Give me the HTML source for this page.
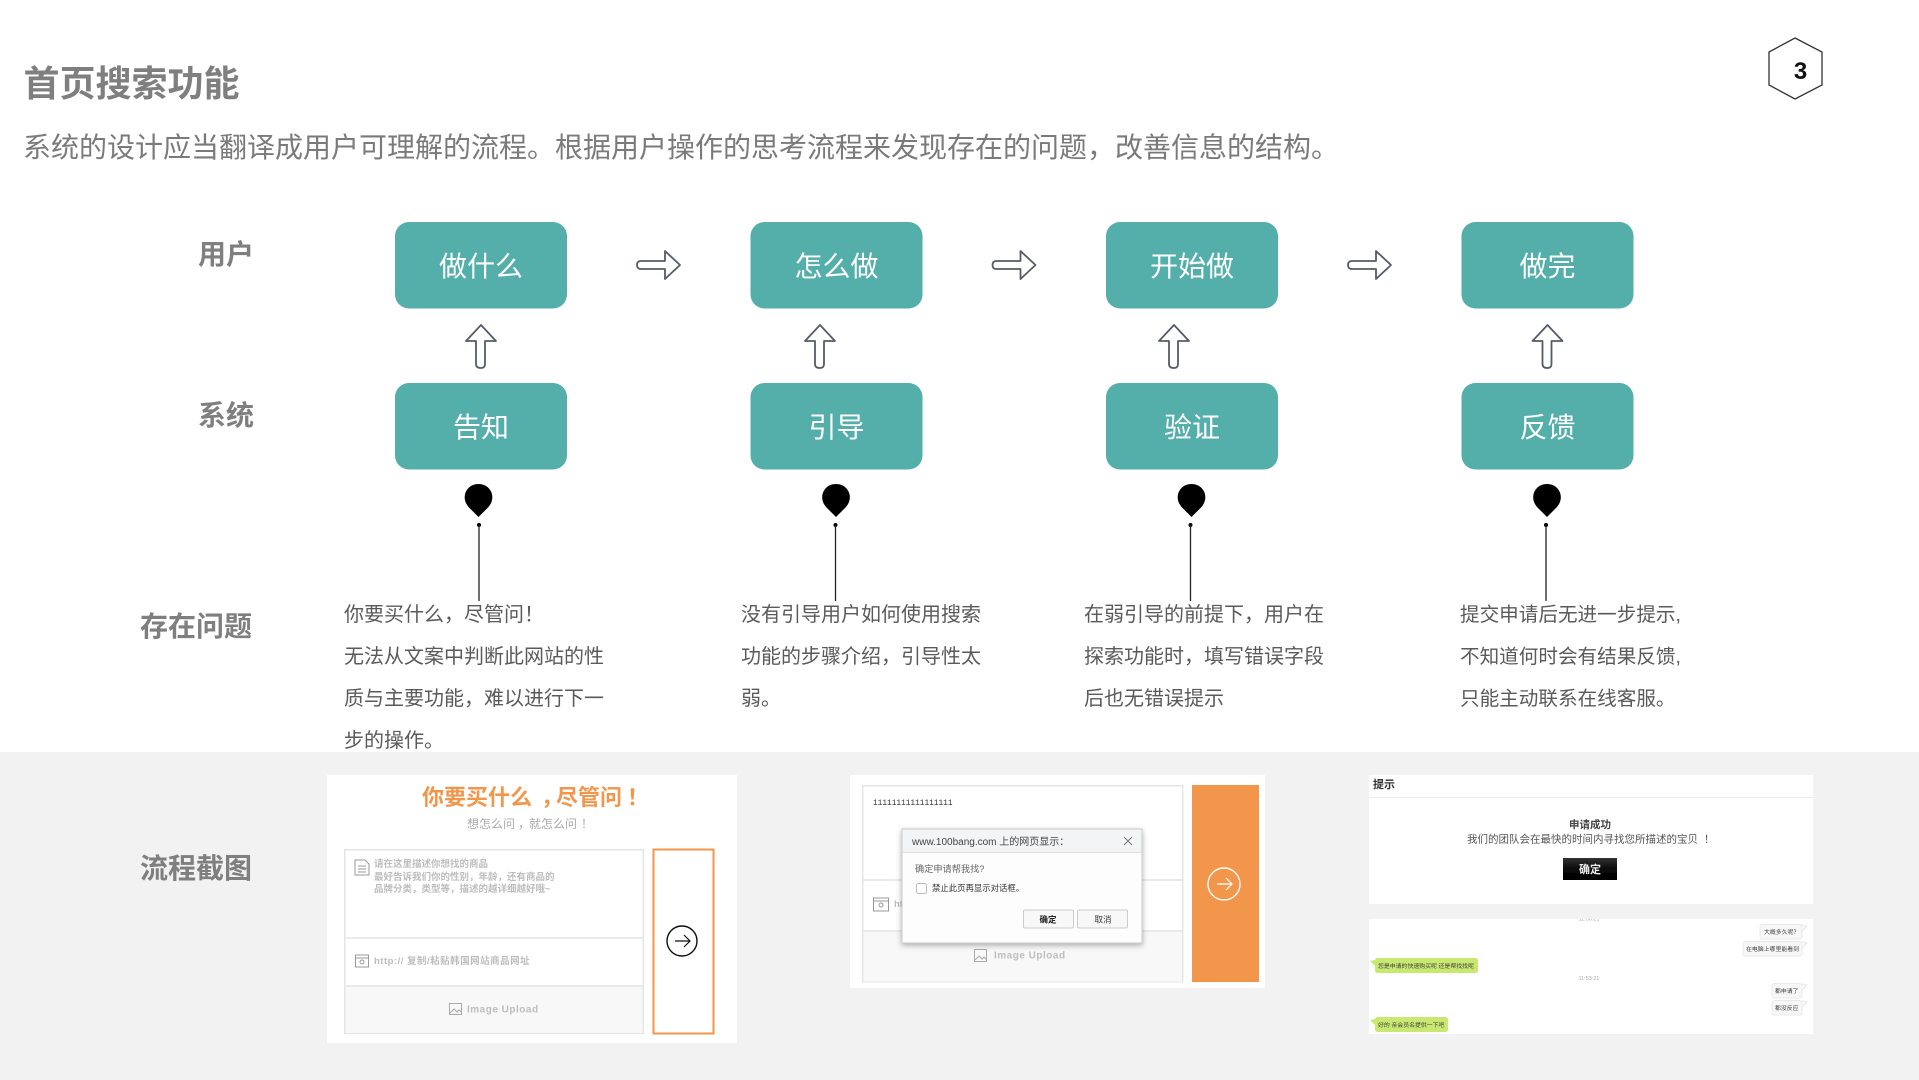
<!DOCTYPE html>
<html lang="zh-CN"><head><meta charset="utf-8"><title>首页搜索功能</title>
<style>
html,body{margin:0;padding:0;background:#fff;width:1919px;height:1080px;overflow:hidden}
svg{display:block}
text{font-family:"Liberation Sans","Noto Sans CJK SC",sans-serif}
.lab{font-size:28px;font-weight:700;fill:#7f7f7f;text-anchor:end}
.box{font-size:28px;fill:#fff;text-anchor:middle}
.b{font-size:20px;fill:#5a5a5a}
.b4{font-size:19.6px;fill:#5a5a5a}
.ph{font-size:9.5px;font-weight:700;fill:#bdbdbd}
.iu{font-size:10px;font-weight:700;fill:#bdbdbd;letter-spacing:.5px}
.chat{font-size:5.9px;fill:#444}
</style></head><body>
<svg width="1919" height="1080" viewBox="0 0 1919 1080" xmlns="http://www.w3.org/2000/svg">
<defs>
<filter id="soft" x="-2%" y="-2%" width="104%" height="104%"><feGaussianBlur stdDeviation="0.35"/></filter>
<filter id="sh" x="-10%" y="-10%" width="120%" height="125%"><feDropShadow dx="0" dy="2" stdDeviation="3" flood-color="#000" flood-opacity=".3"/></filter>
<linearGradient id="blk" x1="0" y1="0" x2="0" y2="1"><stop offset="0" stop-color="#333"/><stop offset=".5" stop-color="#0a0a0a"/><stop offset="1" stop-color="#000"/></linearGradient>
<path id="ar" d="M665 261V251L680 265 665 279V269H641Q637 269 637 265 637 261 641 261Z" fill="#fff" stroke="#555b66" stroke-width="1.8" stroke-linejoin="round"/>
<path id="au" d="M476 341H466L481 325 496 341H485V364Q485 368 481 368 476 368 476 364Z" fill="#fff" stroke="#555b66" stroke-width="1.8" stroke-linejoin="round"/>
<path id="drop" d="M478.5 517L469 507.5C460 498 466 484 478.5 484 491 484 497 498 488 507.5Z" fill="#000"/>
<g id="stem"><circle cx="479" cy="525" r="2" fill="#000"/><line x1="479" y1="525" x2="479" y2="601" stroke="#222" stroke-width="1.3"/></g>
</defs>

<!-- header -->
<text x="23.5" y="96" font-size="36" font-weight="700" fill="#7f7f7f">首页搜索功能</text>
<text x="23" y="157" font-size="28" fill="#7a7a7a">系统的设计应当翻译成用户可理解的流程。根据用户操作的思考流程来发现存在的问题&#xFF0C;改善信息的结构。</text>
<polygon points="1795,38 1822,52 1822,85 1795,99 1769,85 1769,52" fill="#fff" stroke="#333" stroke-width="1.3"/>
<text x="1800.5" y="79" font-size="24" font-weight="700" fill="#111" text-anchor="middle">3</text>

<!-- row labels -->
<text class="lab" x="254" y="264">用户</text>
<text class="lab" x="254" y="425">系统</text>
<text class="lab" x="252" y="636">存在问题</text>

<!-- boxes -->
<g fill="#54aea9">
<rect x="395" y="222" width="172" height="86.5" rx="14"/><rect x="750.5" y="222" width="172" height="86.5" rx="14"/><rect x="1106" y="222" width="172" height="86.5" rx="14"/><rect x="1461.5" y="222" width="172" height="86.5" rx="14"/>
<rect x="395" y="383" width="172" height="86.5" rx="14"/><rect x="750.5" y="383" width="172" height="86.5" rx="14"/><rect x="1106" y="383" width="172" height="86.5" rx="14"/><rect x="1461.5" y="383" width="172" height="86.5" rx="14"/>
</g>
<text class="box" x="481" y="276">做什么</text><text class="box" x="836.5" y="276">怎么做</text><text class="box" x="1192" y="276">开始做</text><text class="box" x="1547.5" y="276">做完</text>
<text class="box" x="481" y="437">告知</text><text class="box" x="836.5" y="437">引导</text><text class="box" x="1192" y="437">验证</text><text class="box" x="1547.5" y="437">反馈</text>

<!-- arrows -->
<use href="#ar"/><use href="#ar" x="355.5"/><use href="#ar" x="711"/>
<use href="#au"/><use href="#au" x="339"/><use href="#au" x="693"/><use href="#au" x="1066.5"/>
<use href="#drop"/><use href="#drop" x="357.5"/><use href="#drop" x="713"/><use href="#drop" x="1068.5"/>
<use href="#stem"/><use href="#stem" x="356.5"/><use href="#stem" x="711.5"/><use href="#stem" x="1067"/>

<!-- problem text -->
<text class="b" x="344" y="621">你要买什么&#xFF0C;尽管问&#xFF01;</text><text class="b" x="344" y="663">无法从文案中判断此网站的性</text><text class="b" x="344" y="705">质与主要功能&#xFF0C;难以进行下一</text><text class="b" x="344" y="747">步的操作。</text>
<text class="b" x="741" y="621">没有引导用户如何使用搜索</text><text class="b" x="741" y="663">功能的步骤介绍&#xFF0C;引导性太</text><text class="b" x="741" y="705">弱。</text>
<text class="b" x="1084" y="621">在弱引导的前提下&#xFF0C;用户在</text><text class="b" x="1084" y="663">探索功能时&#xFF0C;填写错误字段</text><text class="b" x="1084" y="705">后也无错误提示</text>
<text class="b4" x="1460" y="621">提交申请后无进一步提示,</text><text class="b4" x="1460" y="663">不知道何时会有结果反馈,</text><text class="b4" x="1460" y="705">只能主动联系在线客服。</text>

<!-- band -->
<rect x="0" y="752" width="1919" height="328" fill="#f2f2f2"/>
<text class="lab" x="252" y="878">流程截图</text>

<!-- screenshot 1 -->
<g filter="url(#soft)">
<rect x="327" y="775" width="410" height="268" fill="#fff"/>
<text y="805" font-size="22" font-weight="700" fill="#f2964b"><tspan x="422">你要买什么</tspan><tspan x="541">&#xFF0C;</tspan><tspan x="556">尽管问</tspan><tspan x="627">&#xFF01;</tspan></text>
<text y="828" font-size="12" fill="#aaa"><tspan x="467">想怎么问</tspan><tspan x="518">&#xFF0C;</tspan><tspan x="529">就怎么问</tspan><tspan x="581">&#xFF01;</tspan></text>
<rect x="344.7" y="849.7" width="298.6" height="183.6" fill="#fff" stroke="#e4e4e4" stroke-width="1.4"/>
<rect x="345.5" y="986" width="297" height="47" fill="#f8f8f8"/>
<path d="M345 938H643M345 986H643" stroke="#e4e4e4" stroke-width="1.4"/>
<rect x="653.5" y="849.5" width="60" height="184" fill="#fff" stroke="#f2964b" stroke-width="2"/>
<circle cx="682" cy="941" r="15" fill="none" stroke="#111" stroke-width="1.4"/>
<path d="M675 941H690M684 935L690 941 684 947" fill="none" stroke="#111" stroke-width="1.2"/>
<path d="M355 860H365L369 864V875H355Z M358 866H366M358 869H366M358 872H366" fill="none" stroke="#999" stroke-width="1"/>
<text class="ph" x="374" y="867">请在这里描述你想找的商品</text>
<text class="ph" x="374" y="880">最好告诉我们你的性别&#xFF0C;年龄&#xFF0C;还有商品的</text>
<text class="ph" x="374" y="892">品牌分类&#xFF0C;类型等&#xFF0C;描述的越详细越好哦~</text>
<rect x="355.5" y="955" width="13" height="12" fill="none" stroke="#999" stroke-width="1"/><path d="M355.5 958H368.5" stroke="#999"/><circle cx="362" cy="962" r="2" fill="none" stroke="#999"/>
<text class="ph" x="374" y="964" style="letter-spacing:.5px">http:// 复制/粘贴韩国网站商品网址</text>
<rect x="449.5" y="1003.5" width="12" height="11" fill="none" stroke="#aaa"/><path d="M450 1013L454 1009 457 1012 459 1010 461 1012" fill="none" stroke="#aaa"/>
<text class="iu" x="467" y="1012.5">Image Upload</text>
</g>

<!-- screenshot 2 -->
<g filter="url(#soft)">
<rect x="850" y="775" width="415" height="213" fill="#fff"/>
<rect x="862.7" y="785.7" width="320" height="196" fill="#fff" stroke="#e4e4e4" stroke-width="1.4"/>
<rect x="863.5" y="931" width="318.5" height="50.5" fill="#f8f8f8"/>
<path d="M863 880H1183M863 931H1183" stroke="#e4e4e4" stroke-width="1.4"/>
<rect x="1192" y="785" width="67" height="197" fill="#f2964b"/>
<circle cx="1224" cy="884" r="16" fill="none" stroke="#fff" stroke-width="1.4"/>
<path d="M1217 884H1232M1226 878L1232 884 1226 890" fill="none" stroke="#fff" stroke-width="1.2"/>
<text x="873" y="805" font-size="7.8" fill="#333" style="font-family:'Liberation Mono',monospace">11111111111111111</text>
<rect x="873.5" y="898" width="15" height="13" fill="none" stroke="#999"/><path d="M873.5 901H888.5" stroke="#999"/><circle cx="881" cy="905" r="2" fill="none" stroke="#999"/>
<text class="ph" x="894" y="907">ht</text>
<rect x="974.5" y="949.5" width="12" height="12" fill="none" stroke="#aaa"/><path d="M975 960L979 956 982 959 984 957 986 959" fill="none" stroke="#aaa"/>
<text class="iu" x="994" y="958.5">Image Upload</text>
<rect x="902" y="829" width="240" height="114" fill="#fdfdfd" stroke="#ccc" filter="url(#sh)"/>
<rect x="902.5" y="829.5" width="239" height="23" fill="#f3f4f6"/><path d="M902 852.5H1142" stroke="#ddd"/>
<text x="912" y="845" font-size="10" fill="#444">www.100bang.com 上的网页显示&#xFF1A;</text>
<path d="M1124 837L1132 845M1132 837L1124 845" stroke="#777" stroke-width="1"/>
<text x="915" y="872" font-size="9.2" fill="#666">确定申请帮我找?</text>
<rect x="916.5" y="883.5" width="10" height="10" rx="2" fill="#fff" stroke="#bbb"/>
<text x="932" y="891" font-size="8.4" fill="#333">禁止此页再显示对话框。</text>
<rect x="1023.5" y="910" width="50" height="18" rx="1.5" fill="#f8f8f8" stroke="#ccc"/>
<rect x="1077.5" y="910" width="50" height="18" rx="1.5" fill="#f8f8f8" stroke="#ccc"/>
<text x="1048" y="922.5" font-size="8.5" font-weight="700" fill="#222" text-anchor="middle">确定</text>
<text x="1103" y="922.5" font-size="8.5" fill="#333" text-anchor="middle">取消</text>
</g>

<!-- screenshot 3 -->
<g filter="url(#soft)">
<rect x="1369" y="775" width="444" height="129" fill="#fff"/>
<path d="M1369 797.5H1813" stroke="#eee"/>
<text x="1373" y="788" font-size="11" font-weight="700" fill="#333">提示</text>
<text x="1590" y="828" font-size="10.5" font-weight="700" fill="#444" text-anchor="middle">申请成功</text>
<text x="1467" y="842.5" font-size="10.5" fill="#555">我们的团队会在最快的时间内寻找您所描述的宝贝<tspan dx="6">&#xFF01;</tspan></text>
<rect x="1563" y="858" width="54" height="22" fill="url(#blk)"/>
<text x="1590" y="873" font-size="11" font-weight="700" fill="#eee" text-anchor="middle">确定</text>
<rect x="1369" y="919" width="444" height="115" fill="#fff"/>
<text x="1589" y="980" font-size="5.5" fill="#aaa" text-anchor="middle">11:53:21</text>
<text x="1589" y="920.5" font-size="5.5" fill="#aaa" text-anchor="middle">11:50:21</text>
<rect x="1369" y="912" width="444" height="7" fill="#f2f2f2"/>
<g fill="#f7f7f7" stroke="#e8e8e8">
<rect x="1760" y="924.5" width="42" height="14.5" rx="2.5"/><path d="M1802 925L1807 926 1802 931"/>
<rect x="1743" y="941.5" width="59" height="14.5" rx="2.5"/><path d="M1802 942L1807 943 1802 948"/>
<rect x="1772" y="983.5" width="30" height="14.5" rx="2.5"/><path d="M1802 984L1807 985 1802 990"/>
<rect x="1772" y="1000.5" width="30" height="14.5" rx="2.5"/><path d="M1802 1001L1807 1002 1802 1007"/>
</g>
<g fill="#c8e86f">
<rect x="1375" y="958" width="103" height="15" rx="2.5"/><path d="M1375 960L1370 961 1375 966"/>
<rect x="1375" y="1017" width="73" height="15" rx="2.5"/><path d="M1375 1019L1370 1020 1375 1025"/>
</g>
<text class="chat" x="1764" y="934">大概多久呢&#xFF1F;</text>
<text class="chat" x="1746" y="951">在电脑上哪里能看到</text>
<text class="chat" x="1775" y="993">都申请了</text>
<text class="chat" x="1775" y="1010">都没反应</text>
<text class="chat" x="1378" y="968">您是申请的快速购买呢 还是帮找找呢</text>
<text class="chat" x="1378" y="1027">好的 亲会员名提供一下吧</text>
</g>
</svg>
</body></html>
